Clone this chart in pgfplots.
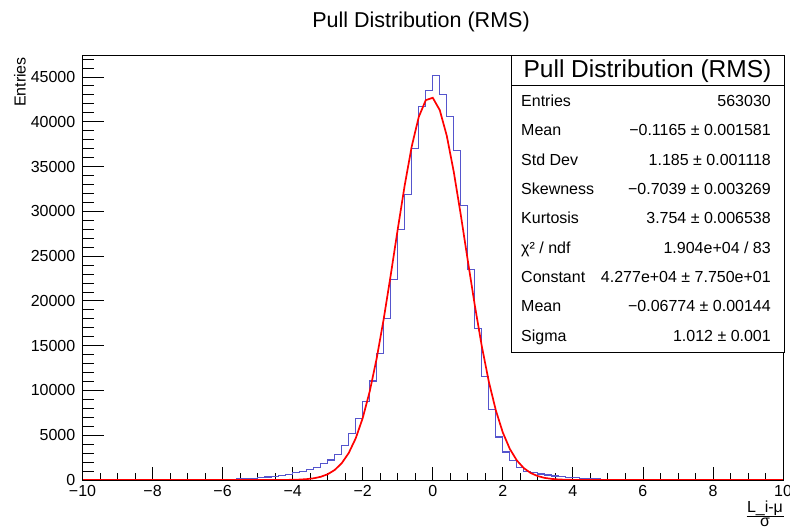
\documentclass[border=0pt]{standalone}
\usepackage{fontspec}
\setmainfont{Liberation Sans}
\usepackage{pgfplots}
\pgfplotsset{compat=1.18}
\definecolor{histblue}{RGB}{85,85,205}
\newcommand{\statfont}{\fontsize{16}{16}\selectfont}
\newcommand{\statrow}[3]{%
  \node[anchor=base west,font=\statfont,inner sep=0pt] at (521,#1) {#2};%
  \node[anchor=base east,font=\statfont,inner sep=0pt] at (771,#1) {#3};}
\begin{document}
\begin{tikzpicture}[x=1pt,y=1pt]
\useasboundingbox (0,0) rectangle (790,527);
% main axis: frame, x ticks, data
\begin{axis}[
  scale only axis, width=700.5pt, height=425pt,
  at={(82.5pt,47pt)}, anchor=south west,
  xmin=-10, xmax=10, ymin=0, ymax=47450,
  axis line style={line width=0.9pt},
  tick align=inside, xtick pos=bottom,
  ytick=\empty, scaled y ticks=false, scaled x ticks=false,
  xtick={-10,-8,...,10},
  xticklabels={−10,−8,−6,−4,−2,0,2,4,6,8,10},
  minor xtick={-9.5,-9,...,9.5},
  major tick length=12.5pt, minor tick length=6.5pt,
  tick style={black,line width=0.8pt},
  xticklabel style={font=\fontsize{16}{16}\selectfont, inner sep=0pt, yshift=-5pt},
]
\addplot[const plot, histblue, line width=1.1pt] coordinates {
(-10,0) (-6.6,20) (-6.4,30) (-6.2,40) (-6.0,60) (-5.8,80) (-5.6,110) (-5.4,140)
(-5.2,190) (-5.0,250) (-4.8,330) (-4.6,420) (-4.4,520) (-4.2,660) (-4.0,800)
(-3.8,980) (-3.6,1150) (-3.4,1410) (-3.2,1820) (-3.0,2230) (-2.8,2870) (-2.6,3900)
(-2.4,5210) (-2.2,6880) (-2.0,8740) (-1.8,11050) (-1.6,14140) (-1.4,18050)
(-1.2,22400) (-1.0,27980) (-0.8,31920) (-0.6,37020) (-0.4,41670) (-0.2,43530)
(0.0,45150) (0.2,43040) (0.4,40630) (0.6,36830) (0.8,30690) (1.0,23550)
(1.2,16930) (1.4,11530) (1.6,7890) (1.8,4800) (2.0,3130) (2.2,2160) (2.4,1350)
(2.6,950) (2.8,790) (3.0,670) (3.2,560) (3.4,450) (3.6,370) (3.8,300) (4.0,230)
(4.2,190) (4.4,150) (4.6,120) (4.8,100) (5.0,70) (5.2,50) (5.4,30) (5.6,20)
(5.8,0) (10,0)
};
\addplot[red, line width=1.7pt] coordinates {
(-10,0) (-4.6,1) (-4.4,4.5) (-4.2,10.3) (-4.0,22.5) (-3.8,47.6) (-3.6,96.8)
(-3.4,189.2) (-3.2,355.5) (-3.0,643) (-2.8,1117.6) (-2.6,1868.8) (-2.4,3005)
(-2.2,4647) (-2.0,6910) (-1.8,9884) (-1.6,13595) (-1.4,17981) (-1.2,22873)
(-1.0,27981) (-0.8,32919) (-0.6,37245) (-0.4,40526) (-0.2,42406) (0.0,42674)
(0.2,41299) (0.4,38437) (0.6,34403) (0.8,29613) (1.0,24514) (1.2,19515)
(1.4,14941) (1.6,11000) (1.8,7790) (2.0,5305) (2.2,3473) (2.4,2187) (2.6,1325)
(2.8,771.7) (3.0,432) (3.2,232.9) (3.4,120.7) (3.6,60.1) (3.8,28.8) (4.0,13.3)
(4.2,5.9) (4.4,2.5) (4.6,1) (10,0)
};
\end{axis}
% overlay axis: y ticks
\begin{axis}[
  scale only axis, width=700.5pt, height=425pt,
  at={(82.5pt,47pt)}, anchor=south west,
  xmin=-10, xmax=10, ymin=0, ymax=47450,
  axis line style={line width=0.9pt},
  tick align=inside, ytick pos=left,
  xtick=\empty, scaled y ticks=false,
  ytick={0,5000,...,45000},
  yticklabels={0,5000,10000,15000,20000,25000,30000,35000,40000,45000},
  minor ytick={0,1000,...,47000},
  major tick length=21pt, minor tick length=11pt,
  tick style={black,line width=0.8pt},
  yticklabel style={font=\fontsize{16}{16}\selectfont, inner sep=0pt, xshift=-7pt},
]
\end{axis}
% title
\node[anchor=base, font=\fontsize{21.5}{21.5}\selectfont, inner sep=0pt] at (421,499.7) {Pull Distribution (RMS)};
% y label
\node[rotate=90, anchor=base east, font=\fontsize{16}{16}\selectfont, inner sep=0pt] at (25.5,470) {Entries};
% x label (fraction)
\node[anchor=base, font=\fontsize{16}{16}\selectfont, inner sep=0pt] at (765,14) {L\_i-μ};
\draw[line width=0.8pt] (746.5,10.3) -- (783.5,10.3);
\node[anchor=base, font=\fontsize{16}{16}\selectfont, inner sep=0pt] at (765,0.5) {σ};
% stats box
\draw[fill=white, line width=0.9pt] (511,175) rectangle (784,472);
\draw[line width=0.9pt] (511,442) -- (784,442);
\node[anchor=base, font=\fontsize{24.5}{24.5}\selectfont, inner sep=0pt] at (647.5,449.5) {Pull Distribution (RMS)};
\statrow{420.6}{Entries}{563030}
\statrow{391.2}{Mean}{−0.1165 ± 0.001581}
\statrow{361.9}{Std Dev}{1.185 ± 0.001118}
\statrow{332.5}{Skewness}{−0.7039 ± 0.003269}
\statrow{303.1}{Kurtosis}{3.754 ± 0.006538}
\statrow{273.7}{χ² / ndf}{1.904e+04 / 83}
\statrow{244.4}{Constant}{4.277e+04 ± 7.750e+01}
\statrow{215.0}{Mean}{−0.06774 ± 0.00144}
\statrow{185.6}{Sigma}{1.012 ± 0.001}
\end{tikzpicture}
\end{document}
